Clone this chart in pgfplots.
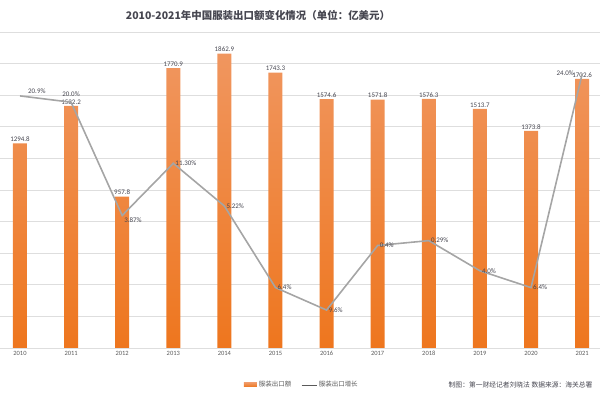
\documentclass[border=0pt]{standalone}
\usepackage{fontspec}
\setmainfont{Carlito}
\newfontfamily\cjk{Noto Sans CJK SC}
\usepackage{pgfplots}
\usepackage{pgfplotstable}
\pgfplotsset{compat=1.18}
\definecolor{barT}{RGB}{240,150,95}
\definecolor{barB}{RGB}{238,118,30}
\definecolor{barO}{RGB}{238,125,45}
\definecolor{lineG}{RGB}{165,165,165}
\definecolor{gridc}{RGB}{222,222,222}
\definecolor{labc}{RGB}{70,70,80}
\definecolor{tickc}{RGB}{90,90,90}

\pgfplotstableread[col sep=comma]{
x,val,lab
0,1294.8,1294.8
1,1532.2,1532.2
2,957.8,957.8
3,1770.9,1770.9
4,1862.9,1862.9
5,1743.3,1743.3
6,1574.6,1574.6
7,1571.8,1571.8
8,1576.3,1576.3
9,1513.7,1513.7
10,1373.8,1373.8
11,1702.6,1702.6
}\bars

\pgfplotstableread[col sep=comma]{
x,g,lab
0,20.9,20.9
1,20.0,20.0
2,3.87,3.87
3,11.30,11.30
4,5.22,5.22
5,-6.4,6.4
6,-9.6,9.6
7,-0.4,0.4
8,0.29,0.29
9,-4.0,4.0
10,-6.4,6.4
11,24.0,24.0
}\growth

\begin{document}
\begin{tikzpicture}
\path[use as bounding box] (0,0) rectangle (600bp,400bp);
\begin{axis}[
  at={(0,52bp)}, anchor=south west, scale only axis,
  width=600bp, height=316bp,
  xmin=-0.391, xmax=11.35, ymin=0, ymax=2000,
  ybar, bar width=14bp,
  axis x line*=bottom, axis y line*=left,
  y axis line style={draw=none},
  x axis line style={draw=gridc, line width=0.8pt},
  ytick={0,200,...,2000}, yticklabels={},
  ymajorgrids, grid style={draw=gridc, line width=0.7pt},
  major tick length=0pt,
  xtick={0,...,11},
  xticklabels={2010,2011,2012,2013,2014,2015,2016,2017,2018,2019,2020,2021},
  xticklabel style={font=\fontsize{6.5}{7}\selectfont, text=tickc},
  nodes near coords={\pgfplotspointmeta},
  point meta=explicit symbolic,
  every node near coord/.append style={font=\fontsize{7}{8}\selectfont, text=labc, inner sep=1.5pt},
  legend style={at={(0.503,-0.117)}, anchor=center, draw=none, fill=none,
    legend columns=2, font=\cjk\fontsize{6.5}{7}\selectfont, text=tickc,
    /tikz/every even column/.append style={column sep=8bp}},
]
\addplot[draw=none, top color=barT, bottom color=barB,
  legend image code/.code={\fill[barO] (0bp,-2bp) rectangle (13bp,2bp);}]
  table[x=x, y=val, meta=lab] {\bars};
\addlegendentry{服装出口额}
\addlegendimage{legend image code/.code={\draw[tickc, line width=0.6pt] (0bp,0bp) -- (15bp,0bp);}}
\addlegendentry{服装出口增长}
\end{axis}
\begin{axis}[
  at={(0,52bp)}, anchor=south west, scale only axis,
  width=600bp, height=316bp,
  xmin=-0.391, xmax=11.35, ymin=-15, ymax=30,
  hide axis, clip=false,
  point meta=explicit symbolic,
  nodes near coords={\pgfplotspointmeta\%},
  every node near coord/.append style={font=\fontsize{7}{8}\selectfont, text=labc, inner sep=2pt},
]
\addplot[lineG, line width=1.6pt, mark=none, nodes near coords={}]
  table[x=x, y=g, meta=lab] {\growth};
\addplot[draw=none, mark=none, nodes near coords align={anchor=west}]
  coordinates {(3,11.30)[11.30] (4,5.22)[5.22] (5,-6.4)[6.4] (6,-9.6)[9.6]
               (7,-0.4)[0.4] (8,0.29)[0.29] (9,-4.0)[4.0] (10,-6.4)[6.4]};
\addplot[draw=none, mark=none, nodes near coords align={anchor=north west}]
  coordinates {(2,3.87)[3.87]};
\addplot[draw=none, mark=none, nodes near coords align={anchor=south west},
  every node near coord/.append style={xshift=6bp}]
  coordinates {(0,20.9)[20.9]};
\addplot[draw=none, mark=none, nodes near coords align={anchor=south},
  every node near coord/.append style={yshift=3bp}]
  coordinates {(1,20.0)[20.0]};
\addplot[draw=none, mark=none, nodes near coords align={anchor=east},
  every node near coord/.append style={xshift=-6bp, yshift=1bp}]
  coordinates {(11,24.0)[24.0]};
\end{axis}
\node[font=\cjk\bfseries\fontsize{10.5}{12}\selectfont, text=labc] at (258bp,385bp) {2010-2021年中国服装出口额变化情况（单位：亿美元）};
\node[font=\cjk\fontsize{6.8}{7.5}\selectfont, text=labc, anchor=east] at (596bp,15bp) {制图：第一财经记者刘晓法 数据来源：海关总署};
\end{tikzpicture}
\end{document}
